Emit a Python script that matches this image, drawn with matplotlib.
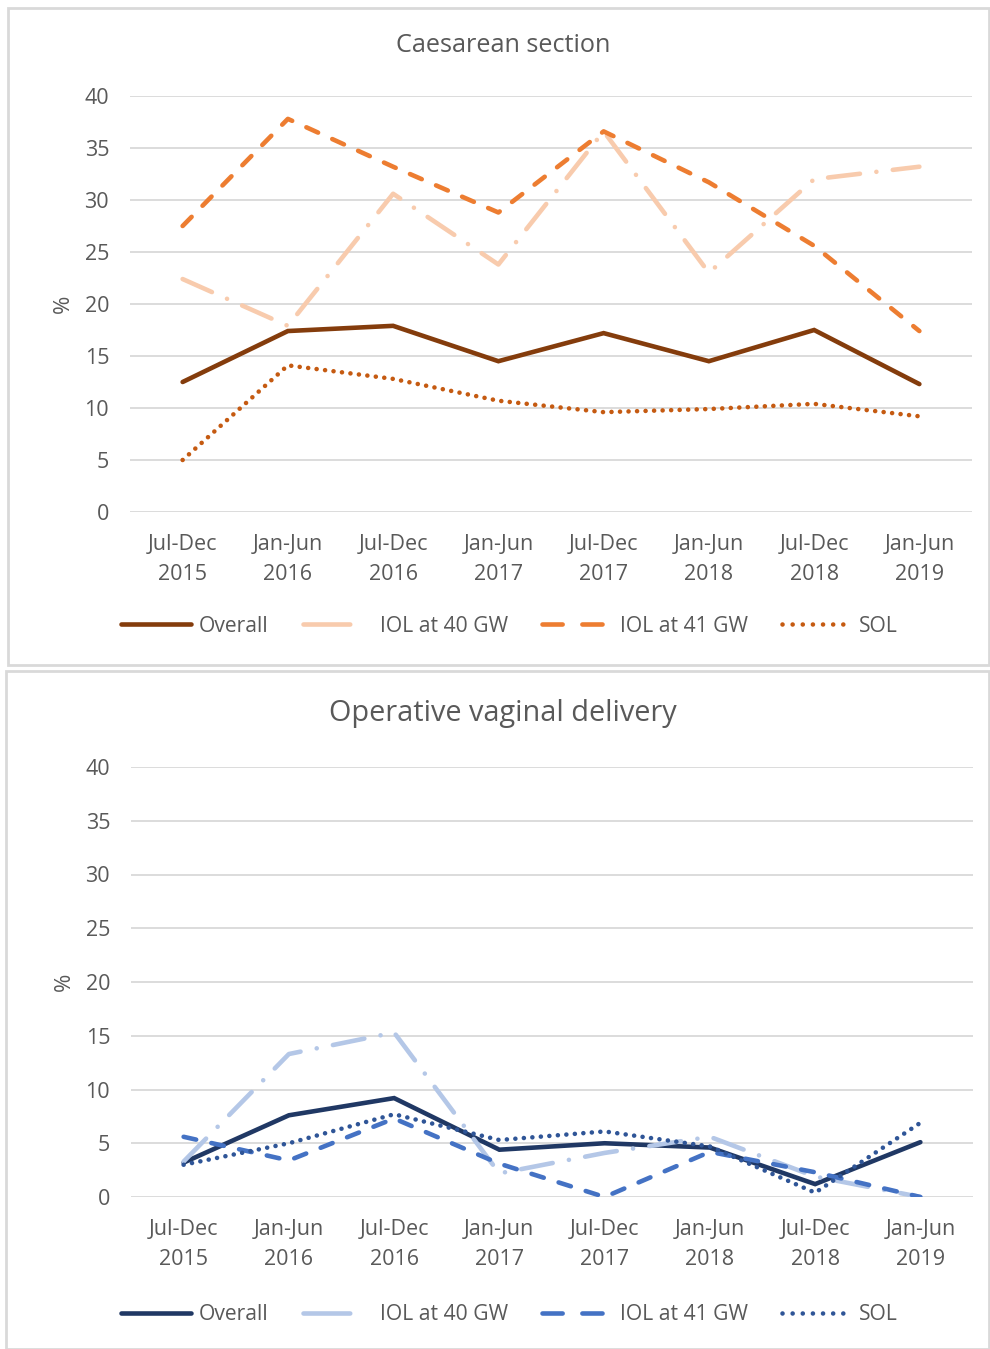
import matplotlib
matplotlib.use("Agg")
import matplotlib.pyplot as plt
from matplotlib.patches import Rectangle
from matplotlib.lines import Line2D

plt.rcParams['font.family'] = ['Open Sans', 'DejaVu Sans']

# categories (half-years)
periods = ["Jul-Dec\n2015", "Jan-Jun\n2016", "Jul-Dec\n2016", "Jan-Jun\n2017",
           "Jul-Dec\n2017", "Jan-Jun\n2018", "Jul-Dec\n2018", "Jan-Jun\n2019"]
series_names = ["Overall", "IOL at 40 GW", "IOL at 41 GW", "SOL"]

# Caesarean section (%)
cs_overall = [12.5, 17.4, 17.9, 14.5, 17.2, 14.5, 17.5, 12.3]
cs_iol40 = [22.4, 17.9, 30.6, 23.8, 36.6, 23.0, 32.0, 33.2]
cs_iol41 = [27.5, 37.8, 33.2, 28.8, 36.6, 31.7, 25.6, 17.4]
cs_sol = [5.0, 14.1, 12.8, 10.7, 9.6, 9.9, 10.4, 9.2]

# Operative vaginal delivery (%)
ovd_overall = [3.2, 7.6, 9.2, 4.4, 5.0, 4.6, 1.2, 5.1]
ovd_iol40 = [3.3, 13.3, 15.3, 2.2, 4.1, 5.6, 1.9, 0.0]
ovd_iol41 = [5.6, 3.4, 7.3, 3.1, 0.0, 4.2, 2.3, 0.0]
ovd_sol = [3.0, 5.0, 7.7, 5.3, 6.1, 4.7, 0.4, 6.9]

orange = ["#843C0C", "#F8CBAD", "#ED7D31", "#C55A11"]
blue = ["#203864", "#B4C7E7", "#4472C4", "#2F5597"]
styles = ["-", (0, (7, 3.6, 0.01, 3.6)), (0, (2.8, 3.4)), (0, (0.01, 1.85))]
# legend samples are short, so the patterns look a bit different there
legend_styles = ["-", (0, (10.2, 12)), (0, (4.4, 4.3)), (0, (0.01, 2.2))]

W, H = 990, 1349
fig = plt.figure(figsize=(W / 100, H / 100), dpi=100)
txt = "#595959"

# panel borders
fig.patches.append(Rectangle((8 / W, 1 - 665 / H), (W - 9) / W, (665 - 8) / H,
                             transform=fig.transFigure, fill=False,
                             edgecolor="#D9D9D9", lw=2))
fig.patches.append(Rectangle((6 / W, 0), (W - 7) / W, 1 - 671 / H,
                             transform=fig.transFigure, fill=False,
                             edgecolor="#D9D9D9", lw=2))


def panel(rect, title, data, colors, title_y, title_size, legend_y):
    ax = fig.add_axes(rect)
    x = range(len(periods))
    for vals, c, ls in zip(data, colors, styles):
        ax.plot(x, vals, color=c, lw=3.3, linestyle=ls,
                dash_capstyle="round", solid_capstyle="round",
                solid_joinstyle="miter")
    ax.set_xlim(-0.5, 7.5)
    ax.set_ylim(0, 40)
    ax.set_yticks(range(0, 41, 5))
    ax.set_xticks(list(x))
    ax.set_xticklabels(periods, linespacing=1.55)
    ax.grid(axis="y", color="#D9D9D9", lw=1.3)
    ax.set_axisbelow(True)
    for s in ax.spines.values():
        s.set_visible(False)
    ax.tick_params(length=0, labelsize=15.5, labelcolor=txt)
    ax.tick_params(axis="y", pad=15)
    ax.tick_params(axis="x", pad=16)
    ax.set_ylabel("%", fontsize=16, color=txt, labelpad=8)
    fig.text(0.508, 1 - title_y / H, title, ha="center", va="center",
             fontsize=title_size, color=txt)
    handles = [Line2D([], [], color=c, lw=3.3, linestyle=ls,
                      dash_capstyle="round", solid_capstyle="round")
               for c, ls in zip(colors, legend_styles)]
    fig.legend(handles, series_names, loc="center",
               bbox_to_anchor=(0.515, 1 - legend_y / H),
               ncol=4, frameon=False, fontsize=15.2, handlelength=3.3,
               columnspacing=1.6, handletextpad=0.38, labelcolor=txt)
    return ax


panel([130 / W, 1 - 512 / H, 842 / W, 416 / H], "Caesarean section",
      [cs_overall, cs_iol40, cs_iol41, cs_sol], orange, 46, 18.2, 626)
panel([131 / W, 1 - 1197 / H, 842 / W, 430 / H], "Operative vaginal delivery",
      [ovd_overall, ovd_iol40, ovd_iol41, ovd_sol], blue, 713, 20.8, 1315)

fig.savefig("out.png", dpi=100)
